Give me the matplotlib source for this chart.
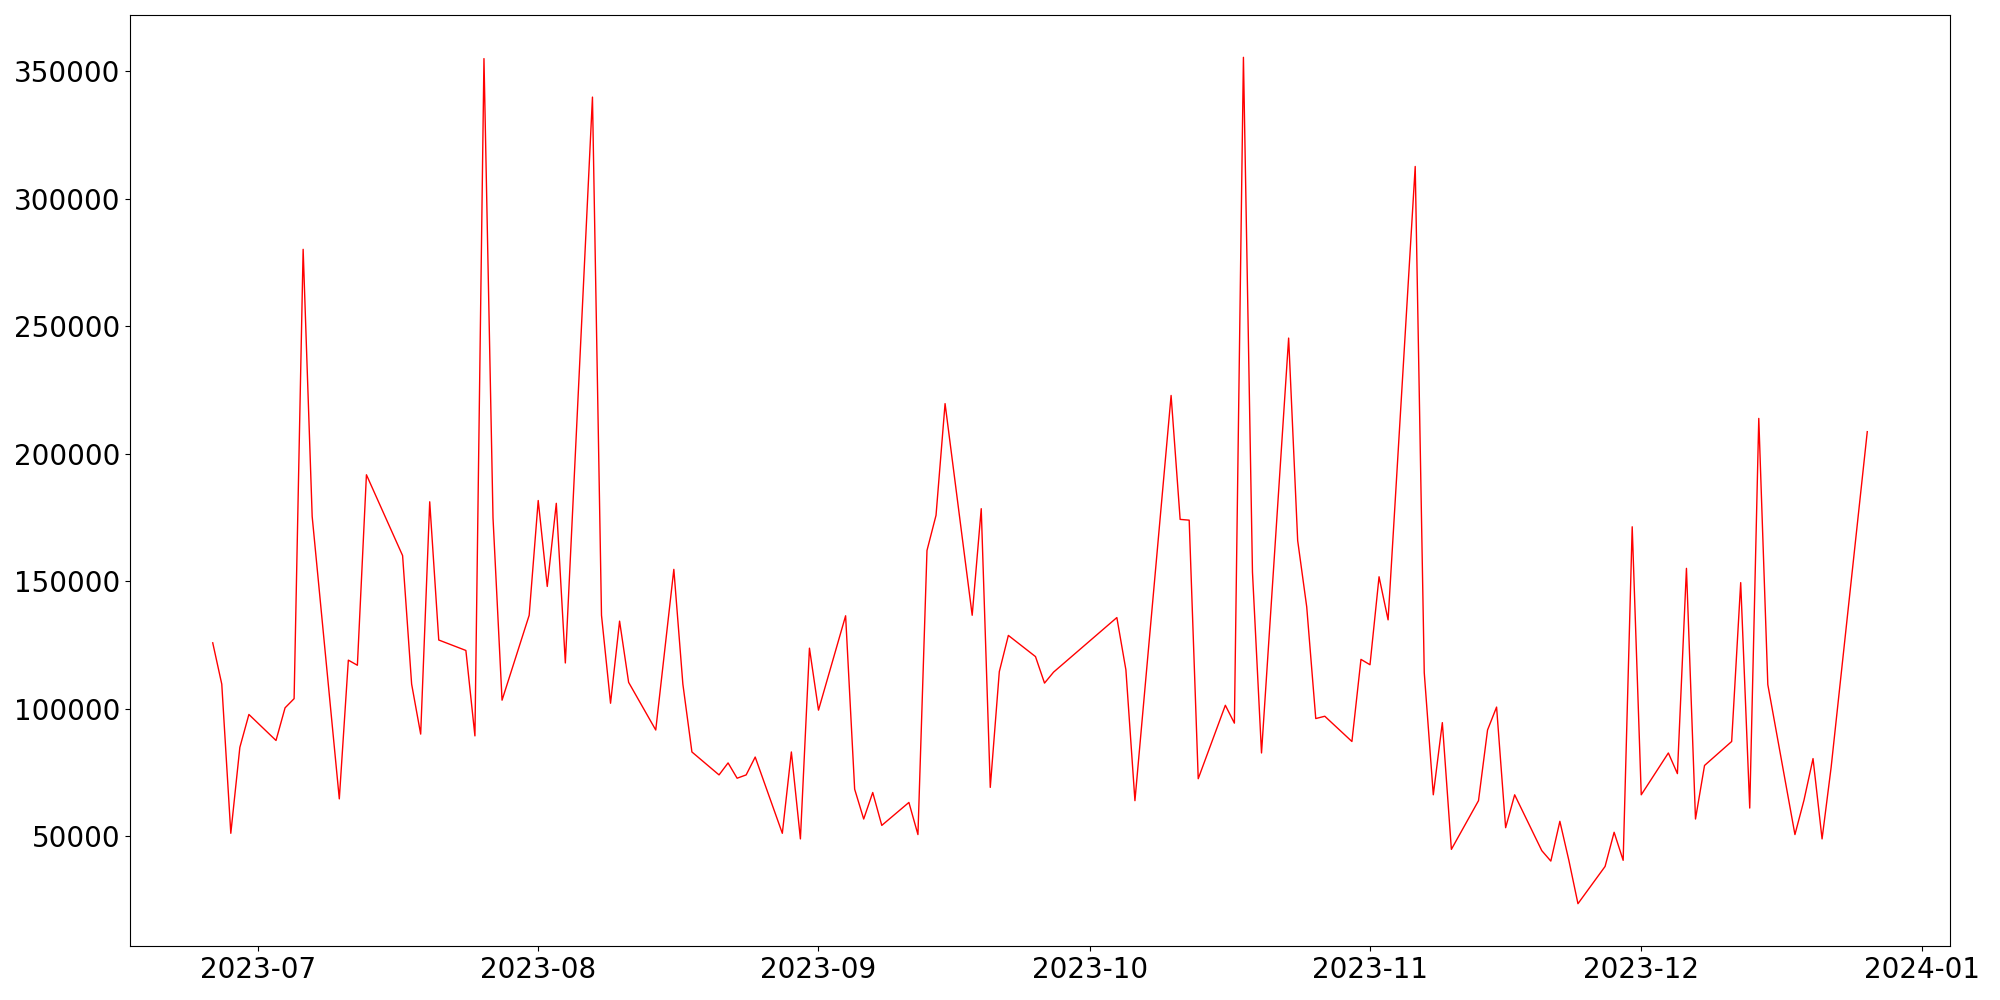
import matplotlib
matplotlib.use('Agg')
import matplotlib.pyplot as plt
import pandas as pd

# Trading days (weekdays, a few holidays missing)
dates = [
    '2023-06-26', '2023-06-27', '2023-06-28', '2023-06-29', '2023-06-30',
    '2023-07-03', '2023-07-04', '2023-07-05', '2023-07-06', '2023-07-07',
    '2023-07-10', '2023-07-11', '2023-07-12', '2023-07-13',
    '2023-07-17', '2023-07-18', '2023-07-19', '2023-07-20', '2023-07-21',
    '2023-07-24', '2023-07-25', '2023-07-26', '2023-07-27', '2023-07-28',
    '2023-07-31', '2023-08-01', '2023-08-02', '2023-08-03', '2023-08-04',
    '2023-08-07', '2023-08-08', '2023-08-09', '2023-08-10', '2023-08-11',
    '2023-08-14', '2023-08-16', '2023-08-17', '2023-08-18',
    '2023-08-21', '2023-08-22', '2023-08-23', '2023-08-24', '2023-08-25',
    '2023-08-28', '2023-08-29', '2023-08-30', '2023-08-31', '2023-09-01',
    '2023-09-04', '2023-09-05', '2023-09-06', '2023-09-07', '2023-09-08',
    '2023-09-11', '2023-09-12', '2023-09-13', '2023-09-14', '2023-09-15',
    '2023-09-18', '2023-09-19', '2023-09-20', '2023-09-21', '2023-09-22',
    '2023-09-25', '2023-09-26', '2023-09-27',
    '2023-10-04', '2023-10-05', '2023-10-06',
    '2023-10-10', '2023-10-11', '2023-10-12', '2023-10-13',
    '2023-10-16', '2023-10-17', '2023-10-18', '2023-10-19', '2023-10-20',
    '2023-10-23', '2023-10-24', '2023-10-25', '2023-10-26', '2023-10-27',
    '2023-10-30', '2023-10-31', '2023-11-01', '2023-11-02', '2023-11-03',
    '2023-11-06', '2023-11-07', '2023-11-08', '2023-11-09', '2023-11-10',
    '2023-11-13', '2023-11-14', '2023-11-15', '2023-11-16', '2023-11-17',
    '2023-11-20', '2023-11-21', '2023-11-22', '2023-11-23', '2023-11-24',
    '2023-11-27', '2023-11-28', '2023-11-29', '2023-11-30', '2023-12-01',
    '2023-12-04', '2023-12-05', '2023-12-06', '2023-12-07', '2023-12-08',
    '2023-12-11', '2023-12-12', '2023-12-13', '2023-12-14', '2023-12-15',
    '2023-12-18', '2023-12-19', '2023-12-20', '2023-12-21', '2023-12-22',
    '2023-12-26',
]

values = [
    125900, 109700, 51200, 84900, 97800,
    87600, 100400, 104000, 280200, 175400,
    64700, 119100, 117100, 191800,
    160100, 109700, 90100, 181200, 127000,
    122900, 89400, 355000, 174900, 103400,
    136700, 181700, 148000, 180600, 118000,
    339900, 136700, 102200, 134400, 110400,
    91700, 154700, 109700, 83100,
    74100, 78800, 72800, 74100, 81100,
    51200, 83100, 49000, 123800, 99500,
    136500, 68500, 56800, 67200, 54300,
    63300, 50700, 162100, 175900, 219700,
    136700, 178500, 69200, 114600, 128800,
    120500, 110100, 114400,
    135800, 115300, 64000,
    222900, 174300, 174000, 72600,
    101400, 94400, 355500, 153600, 82700,
    245400, 166000, 140000, 96200, 97100,
    87200, 119400, 117300, 151800, 134900,
    312700, 114200, 66300, 94600, 44900,
    64000, 91700, 100700, 53400, 66300,
    44400, 40300, 55900, 40500, 23600,
    38200, 51600, 40600, 171400, 66300,
    82700, 74600, 155100, 56800, 77800,
    87200, 149500, 61100, 213900, 109500,
    50700, 64200, 80500, 49000, 77000,
    208700,
]

x = pd.to_datetime(dates)

fig = plt.figure(figsize=(20, 10), dpi=100)
ax = fig.add_axes([0.065, 0.054, 0.91, 0.931])
ax.plot(x, values, color='red', lw=1)
ax.tick_params(labelsize=20)

fig.savefig('out.png', dpi=100)
